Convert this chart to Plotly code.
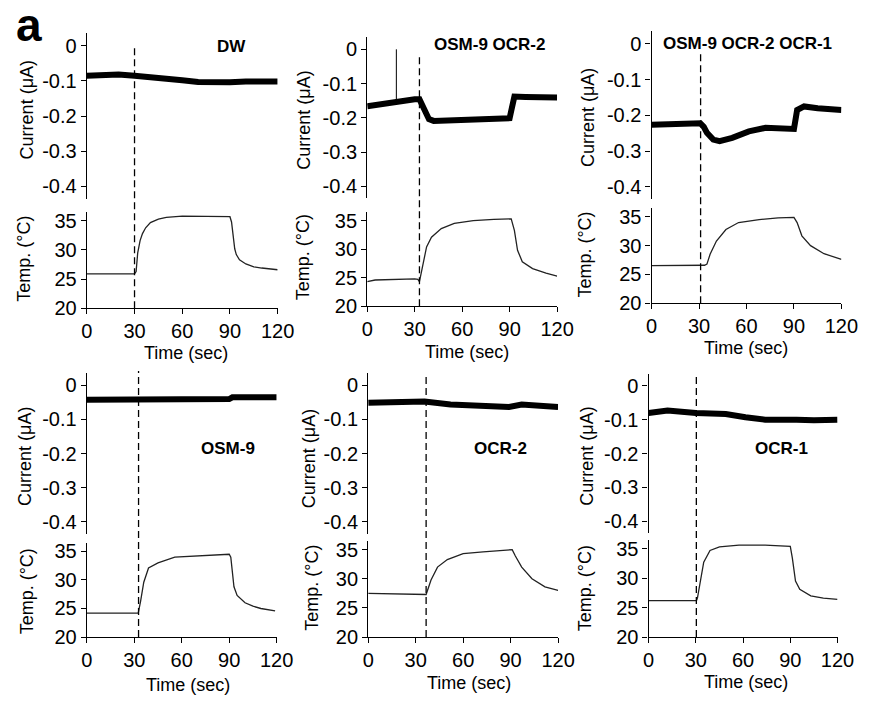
import plotly.graph_objects as go

W, H = 874, 704

# --- traces (time in s, current in uA, temperature in C) ---
dw_t = [0, 10, 20, 30, 40, 50, 60, 70, 80, 90, 100, 110, 120]
dw_i = [-0.085, -0.082, -0.082, -0.085, -0.088, -0.093, -0.098, -0.103, -0.105, -0.104, -0.102, -0.103, -0.102]
dw_temp_t = [0, 30, 31, 32, 33.5, 35, 37, 40, 45, 50, 60, 75, 90, 91, 92, 93, 94, 96, 100, 105, 110, 120]
dw_temp = [25.9, 25.9, 26.3, 29.5, 31.6, 32.8, 33.8, 34.7, 35.3, 35.6, 35.8, 35.8, 35.7, 34.8, 32.2, 30.2, 29.2, 28.3, 27.6, 27.1, 26.9, 26.6]

o9o2_t = [0, 10, 20, 30, 33, 35, 37, 39, 42, 50, 60, 70, 80, 90, 91, 92, 93, 100, 110, 120]
o9o2_i = [-0.166, -0.158, -0.151, -0.146, -0.146, -0.168, -0.192, -0.204, -0.209, -0.207, -0.206, -0.205, -0.203, -0.201, -0.180, -0.145, -0.138, -0.139, -0.140, -0.141]
o9o2_spike_t = [18.4, 18.4]
o9o2_spike_i = [-0.15, 0.0]
o9o2_temp_t = [0, 5, 30, 32, 33, 35.5, 37.5, 40.6, 46.8, 55, 67, 80, 91, 93, 95, 98, 104.5, 113, 120]
o9o2_temp = [24.3, 24.6, 24.8, 24.7, 24.3, 27.5, 30.4, 32.1, 33.6, 34.5, 35.0, 35.2, 35.3, 33.3, 29.8, 27.8, 26.6, 25.8, 25.3]

o9o2o1_t = [0, 10, 20, 30.8, 33, 35, 39, 43, 51, 61.5, 72, 80, 90, 92, 96.4, 105, 112, 120]
o9o2o1_i = [-0.226, -0.225, -0.226, -0.222, -0.232, -0.249, -0.268, -0.272, -0.263, -0.245, -0.235, -0.236, -0.238, -0.185, -0.175, -0.180, -0.182, -0.185]
o9o2o1_temp_t = [0, 30, 33.5, 35, 37, 41, 47, 55, 68, 80, 90, 92, 95, 100.5, 109, 120]
o9o2o1_temp = [26.55, 26.55, 26.6, 26.8, 28.5, 30.8, 32.8, 34.0, 34.5, 34.8, 34.9, 34.0, 31.7, 30.0, 28.6, 27.6]

osm9_t = [0, 30, 60, 90, 92, 120]
osm9_i = [-0.043, -0.042, -0.042, -0.041, -0.036, -0.036]
osm9_temp_t = [0, 32.5, 34, 36, 39, 45, 55.6, 72, 88, 90, 91, 92, 93, 95, 100, 105, 110, 119]
osm9_temp = [24.2, 24.2, 26.3, 29.6, 32.1, 33.0, 34.0, 34.2, 34.4, 34.5, 34.0, 31.0, 28.8, 27.3, 26.0, 25.4, 25.0, 24.6]

ocr2_t = [0, 20, 35.6, 52, 72.6, 89, 97, 110, 120]
ocr2_i = [-0.052, -0.050, -0.048, -0.057, -0.059, -0.064, -0.057, -0.062, -0.064]
ocr2_temp_t = [0, 20, 35.6, 36.6, 39.7, 43.8, 50, 60, 72.6, 89, 91, 93, 97, 103.5, 111.7, 120]
ocr2_temp = [27.5, 27.45, 27.4, 27.3, 29.8, 32.0, 33.3, 34.3, 34.6, 34.9, 35.0, 33.9, 32.0, 30.0, 28.6, 28.0]

ocr1_t = [0, 12, 30, 49, 61.5, 74, 94, 105, 120]
ocr1_i = [-0.080, -0.073, -0.080, -0.083, -0.093, -0.100, -0.100, -0.102, -0.100]
ocr1_temp_t = [0, 30.4, 31, 33, 35, 39, 45, 57.4, 74, 90, 91.3, 93.3, 96, 103, 111, 120]
ocr1_temp = [26.2, 26.2, 26.6, 29.4, 32.7, 34.7, 35.3, 35.6, 35.6, 35.4, 33.4, 29.5, 28.1, 27.0, 26.6, 26.4]

names = ["DW", "OSM-9 OCR-2", "OSM-9 OCR-2 OCR-1", "OSM-9", "OCR-2", "OCR-1"]
stim_t = [30, 33, 31, 32.7, 36.6, 30.3]

cur_ticks = [0, -0.1, -0.2, -0.3, -0.4]
cur_ticktext = ["0", "-0.1", "-0.2", "-0.3", "-0.4"]
temp_ticks = [20, 25, 30, 35]
time_ticks = [0, 30, 60, 90, 120]

traces = [
    (dw_t, dw_i, dw_temp_t, dw_temp),
    (o9o2_t, o9o2_i, o9o2_temp_t, o9o2_temp),
    (o9o2o1_t, o9o2o1_i, o9o2o1_temp_t, o9o2o1_temp),
    (osm9_t, osm9_i, osm9_temp_t, osm9_temp),
    (ocr2_t, ocr2_i, ocr2_temp_t, ocr2_temp),
    (ocr1_t, ocr1_i, ocr1_temp_t, ocr1_temp),
]

# pixel geometry: x0, x1, current top/bottom, temp top/bottom, dashed-line top
geom = [
    (83, 279, 32, 200.5, 214, 312, 43),
    (371, 566, 36, 200, 214, 310, 53),
    (663, 858, 30, 201, 210, 307, 50),
    (83, 278, 378, 542, 551, 647, 376),
    (372, 567, 378, 542, 549, 647, 378),
    (660, 854, 379, 541, 548, 647, 378),
]
# label centres (px): name, current title, temp title, time title
label_pos = [
    ((232, 45), (22, 110), (19, 262), (185, 358)),
    ((497, 43), (306, 120), (305, 260), (473, 357)),
    ((762, 42), (598, 118), (595, 257), (760, 353)),
    ((228, 455), (20, 463), (21, 600), (187, 696)),
    ((508, 455), (312, 465), (314, 597), (475, 694)),
    ((796, 455), (597, 463), (595, 597), (760, 693)),
]

FONT = "Liberation Sans, Arial, Helvetica, sans-serif"


def px(x):
    return x / W


def py(y):
    return 1 - y / H


def label(text, x, y, size, angle=0):
    return dict(text=text, x=px(x), y=py(y), xref="paper", yref="paper",
                xanchor="center", yanchor="middle", showarrow=False, textangle=angle,
                font=dict(size=size, color="black"))


fig = go.Figure()
layout = {}
shapes = []
annotations = []

axis_style = dict(showline=True, linecolor="black", linewidth=1.3, ticks="outside",
                  ticklen=5, tickwidth=1.3, tickcolor="black", showgrid=False,
                  zeroline=False, tickfont=dict(size=20, color="black"))

for k, ((t_i, cur, t_T, temp), g, lp) in enumerate(zip(traces, geom, label_pos)):
    x0, x1, ct, cb, tt, tb, dtop = g
    n, m = 2 * k + 1, 2 * k + 2
    xn = "x" if n == 1 else f"x{n}"
    yn = "y" if n == 1 else f"y{n}"

    fig.add_trace(go.Scatter(x=t_i, y=cur, mode="lines", xaxis=xn, yaxis=yn,
                             line=dict(color="black", width=6), showlegend=False))
    if k == 1:
        fig.add_trace(go.Scatter(x=o9o2_spike_t, y=o9o2_spike_i, mode="lines", xaxis=xn, yaxis=yn,
                                 line=dict(color="black", width=1), showlegend=False))
    fig.add_trace(go.Scatter(x=t_T, y=temp, mode="lines", xaxis=f"x{m}", yaxis=f"y{m}",
                             line=dict(color="#222222", width=1.3), showlegend=False))

    kx = "xaxis" if n == 1 else f"xaxis{n}"
    ky = "yaxis" if n == 1 else f"yaxis{n}"
    layout[kx] = dict(domain=[px(x0), px(x1)], range=[0, 120], visible=False, anchor=yn)
    layout[ky] = dict(domain=[py(cb), py(ct)], range=[-0.435, 0.035], anchor=xn,
                      tickvals=cur_ticks, ticktext=cur_ticktext, **axis_style)
    layout[f"xaxis{m}"] = dict(domain=[px(x0), px(x1)], range=[0, 120], anchor=f"y{m}",
                               tickvals=time_ticks, **axis_style)
    layout[f"yaxis{m}"] = dict(domain=[py(tb), py(tt)], range=[20, 36.5], anchor=f"x{m}",
                               tickvals=temp_ticks, **axis_style)

    shapes.append(dict(type="line", xref=xn, yref="paper", x0=stim_t[k], x1=stim_t[k],
                       y0=py(tb), y1=py(dtop), line=dict(color="black", width=1.3, dash="7px,4px")))

    (nx, ny), (cx, cy), (tx, ty), (sx, sy) = lp
    annotations.append(label(f"<b>{names[k]}</b>", nx, ny, 17))
    annotations.append(label("Current (μA)", cx, cy, 18, -90))
    annotations.append(label("Temp. (°C)", tx, ty, 18, -90))
    annotations.append(label("Time (sec)", sx, sy, 18))

annotations.append(label("<b>a</b>", 24, 23, 46))

fig.update_layout(
    width=W, height=H,
    margin=dict(l=0, r=0, t=0, b=0),
    paper_bgcolor="white", plot_bgcolor="white",
    font=dict(family=FONT, color="black"),
    shapes=shapes, annotations=annotations,
    **layout,
)

fig.write_html("out.html", config={"displayModeBar": False},
               post_script="document.body.style.margin='0';")
